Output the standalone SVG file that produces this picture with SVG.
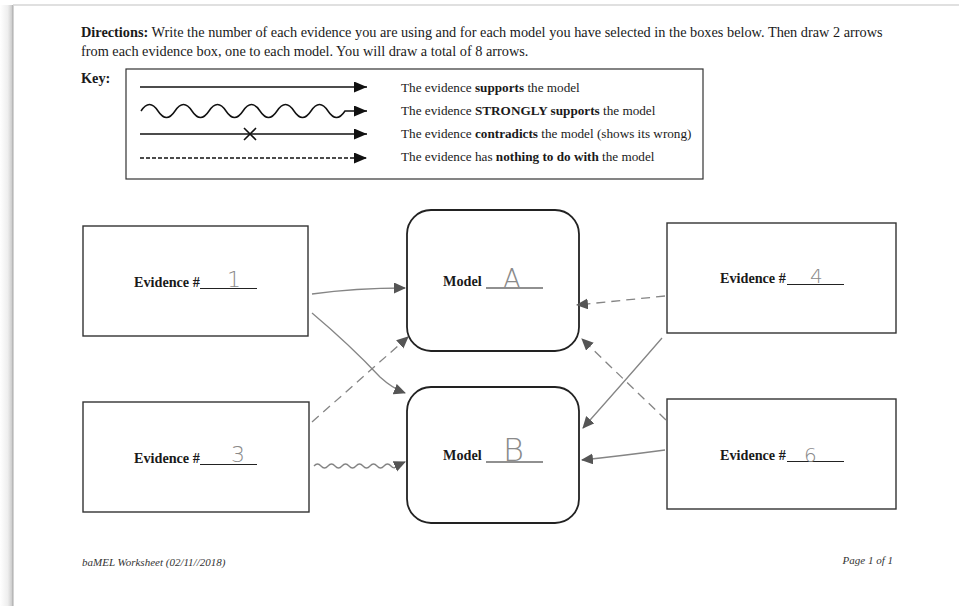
<svg xmlns="http://www.w3.org/2000/svg" width="959" height="606" viewBox="0 0 959 606">
  <defs>
    <linearGradient id="edgeShade" x1="0" y1="0" x2="1" y2="0">
      <stop offset="0" stop-color="#ffffff"/>
      <stop offset="0.6" stop-color="#eeeeee"/>
      <stop offset="1" stop-color="#c4c4c4"/>
    </linearGradient>
    <marker id="keyHead" markerUnits="userSpaceOnUse" markerWidth="14" markerHeight="12" refX="13" refY="5.5" orient="auto">
      <path d="M0,0 L13,5.5 L0,11 z" fill="#111"/>
    </marker>
    <marker id="penHead" markerUnits="userSpaceOnUse" markerWidth="13" markerHeight="12" refX="11" refY="5.5" orient="auto">
      <path d="M0,0 L12,5.5 L0,11 z" fill="#555"/>
    </marker>
    <style>
      .print { font-family: "Liberation Serif", "Times New Roman", serif; fill: #1a1a1a; }
      .dir { font-size: 14.3px; }
      .keytxt { font-size: 13.2px; }
      .lbl { font-size: 14.2px; font-weight: bold; }
      .foot { font-size: 11px; font-style: italic; fill: #333; }
      .box { fill: #fff; stroke: #333; stroke-width: 1.4; }
      .model { fill: #fff; stroke: #222; stroke-width: 1.8; }
      .blank { stroke: #222; stroke-width: 1.2; }
      .hand { font-family: "DejaVu Sans", "Liberation Sans", sans-serif; font-weight: 200; fill: #8a8a8a; }
      .keyline { fill: none; stroke: #111; stroke-width: 1.5; marker-end: url(#keyHead); }
      .pen { fill: none; stroke: #858585; stroke-width: 1.3; marker-end: url(#penHead); }
      .pen.dash { stroke-dasharray: 9 6; }
    </style>
  </defs>

  <!-- paper and its edge shading -->
  <rect width="959" height="606" fill="#fff"/>
  <rect x="0" y="5" width="13" height="601" fill="url(#edgeShade)"/>
  <line x1="13" y1="5" x2="13" y2="606" stroke="#a8a8a8" stroke-width="1"/>
  <line x1="13" y1="5" x2="959" y2="5" stroke="#d6d6d6" stroke-width="1.5"/>

  <!-- directions -->
  <text class="print dir" x="81" y="37"><tspan font-weight="bold">Directions:</tspan> Write the number of each evidence you are using and for each model you have selected in the boxes below. Then draw 2 arrows</text>
  <text class="print dir" x="81" y="56">from each evidence box, one to each model. You will draw a total of 8 arrows.</text>

  <!-- key -->
  <g id="key">
    <text class="print dir" x="81" y="83" font-weight="bold">Key:</text>
    <rect x="126" y="69" width="577" height="110" fill="none" stroke="#333" stroke-width="1.2"/>
    <line class="keyline" x1="140" y1="87" x2="367" y2="87"/>
    <path class="keyline" d="M141,111 q8.5,-13 17,0 t17,0 t17,0 t17,0 t17,0 t17,0 t17,0 t17,0 t17,0 t17,0 t17,0 t17,0 L367,111"/>
    <line class="keyline" x1="140" y1="134" x2="367" y2="134"/>
    <path d="M244,128 L256,140 M256,128 L244,140" stroke="#111" stroke-width="1.6"/>
    <line class="keyline" x1="140" y1="158" x2="367" y2="158" stroke-width="1" stroke-dasharray="4 2"/>
    <text class="print keytxt" x="401" y="92">The evidence <tspan font-weight="bold">supports</tspan> the model</text>
    <text class="print keytxt" x="401" y="115">The evidence <tspan font-weight="bold">STRONGLY supports</tspan> the model</text>
    <text class="print keytxt" x="401" y="138">The evidence <tspan font-weight="bold">contradicts</tspan> the model (shows its wrong)</text>
    <text class="print keytxt" x="401" y="161">The evidence has <tspan font-weight="bold">nothing to do with</tspan> the model</text>
  </g>

  <!-- evidence boxes -->
  <g id="evidence-1">
    <rect class="box" x="83" y="226" width="225" height="110"/>
    <text class="print lbl" x="134" y="287">Evidence #</text>
    <line class="blank" x1="200" y1="288.5" x2="257" y2="288.5"/>
    <text class="hand" x="227" y="287" font-size="22">1</text>
  </g>
  <g id="evidence-3">
    <rect class="box" x="83" y="402" width="226" height="110"/>
    <text class="print lbl" x="134" y="463">Evidence #</text>
    <line class="blank" x1="200" y1="464.5" x2="257" y2="464.5"/>
    <text class="hand" x="231" y="462" font-size="22">3</text>
  </g>
  <g id="evidence-4">
    <rect class="box" x="667" y="223" width="229" height="110"/>
    <text class="print lbl" x="720" y="283">Evidence #</text>
    <line class="blank" x1="787" y1="284.5" x2="844" y2="284.5"/>
    <text class="hand" x="810" y="283" font-size="20">4</text>
  </g>
  <g id="evidence-6">
    <rect class="box" x="667" y="399" width="229" height="110"/>
    <text class="print lbl" x="720" y="460">Evidence #</text>
    <line class="blank" x1="787" y1="461.5" x2="844" y2="461.5"/>
    <text class="hand" x="804" y="462" font-size="20">6</text>
  </g>

  <!-- model boxes -->
  <g id="model-a">
    <rect class="model" x="407" y="210" width="172" height="141" rx="24" ry="24"/>
    <text class="print lbl" x="443" y="286">Model</text>
    <line class="blank" x1="486" y1="288" x2="543" y2="288"/>
    <text class="hand" x="503" y="288" font-size="26">A</text>
  </g>
  <g id="model-b">
    <rect class="model" x="407" y="387" width="172" height="136" rx="24" ry="24"/>
    <text class="print lbl" x="443" y="460">Model</text>
    <line class="blank" x1="486" y1="462" x2="543" y2="462"/>
    <text class="hand" x="503" y="461" font-size="32">B</text>
  </g>

  <!-- hand-drawn connectors -->
  <g id="connectors">
    <path class="pen" d="M312,294 Q355,288 405,288"/>
    <path class="pen" d="M312,313 Q350,345 380,377 Q392,388 405,393"/>
    <path class="pen dash" d="M312,422 L408,337"/>
    <path class="pen" d="M314,466 q3.5,-4 7,0 t7,0 t7,0 t7,0 t7,0 t7,0 t7,0 t7,0 t7,0 t7,0 t7,0 t7,-1 L405,462"/>
    <path class="pen dash" d="M665,296 L577,305"/>
    <path class="pen" d="M662,338 Q630,375 583,428"/>
    <path class="pen dash" d="M666,420 L582,339"/>
    <path class="pen" d="M665,450 Q620,456 582,460"/>
  </g>

  <!-- footer -->
  <text class="print foot" x="82" y="566">baMEL Worksheet (02/11//2018)</text>
  <text class="print foot" x="893" y="564" text-anchor="end">Page 1 of 1</text>
</svg>
